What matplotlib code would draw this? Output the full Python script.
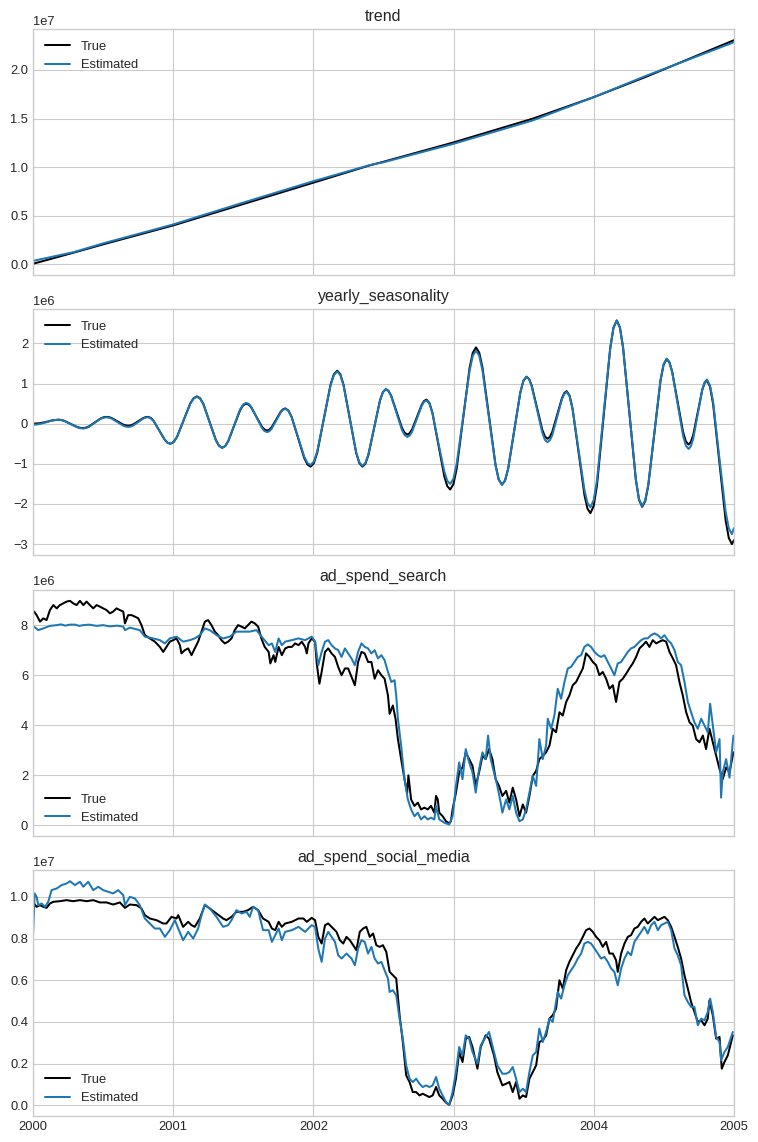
import matplotlib
matplotlib.use("Agg")
import matplotlib.pyplot as plt
import numpy as np

# ---------------- data ----------------
years = [2000, 2001, 2002, 2003, 2004, 2005]
year_labels = ["2000", "2001", "2002", "2003", "2004", "2005"]
titles = ["trend", "yearly_seasonality", "ad_spend_search", "ad_spend_social_media"]

# trend (units of 1e7)
trend_t = [2000.0, 2000.29, 2000.5, 2001.0, 2001.5, 2002.0, 2002.4, 2002.5, 2003.0, 2003.564, 2004.0, 2004.374, 2005.0]
trend_true = [0.005, 0.12, 0.205, 0.40, 0.62, 0.84, 1.017, 1.055, 1.254, 1.498, 1.72, 1.93, 2.306]
trend_est = [0.035, 0.125, 0.215, 0.41, 0.635, 0.855, 1.02, 1.05, 1.24, 1.48, 1.72, 1.94, 2.285]

# yearly seasonality (units of 1e6)
seas_t = [2000.000, 2000.045, 2000.090, 2000.135, 2000.180, 2000.224, 2000.2685, 2000.313, 2000.357,
          2000.399, 2000.4405, 2000.482, 2000.524, 2000.563, 2000.602, 2000.641, 2000.680, 2000.715,
          2000.750, 2000.785, 2000.820, 2000.860, 2000.900, 2000.940, 2000.980, 2001.0275, 2001.075,
          2001.1225, 2001.170, 2001.215, 2001.260, 2001.305, 2001.350, 2001.3925, 2001.435, 2001.4775,
          2001.520, 2001.5575, 2001.595, 2001.6325, 2001.670, 2001.7025, 2001.735, 2001.7675, 2001.800,
          2001.845, 2001.890, 2001.935, 2001.980, 2002.0275, 2002.075, 2002.1225, 2002.170, 2002.215,
          2002.260, 2002.305, 2002.350, 2002.392, 2002.4335, 2002.475, 2002.517, 2002.555, 2002.5935,
          2002.632, 2002.670, 2002.704, 2002.7385, 2002.773, 2002.807, 2002.849, 2002.8915, 2002.934,
          2002.976, 2003.022, 2003.068, 2003.114, 2003.160, 2003.206, 2003.2525, 2003.299, 2003.345,
          2003.389, 2003.4325, 2003.476, 2003.520, 2003.5575, 2003.595, 2003.6325, 2003.670, 2003.704,
          2003.7385, 2003.773, 2003.807, 2003.849, 2003.8915, 2003.934, 2003.976, 2004.023, 2004.070,
          2004.117, 2004.164, 2004.209, 2004.2545, 2004.300, 2004.345, 2004.389, 2004.4325, 2004.476,
          2004.520, 2004.559, 2004.598, 2004.637, 2004.676, 2004.709, 2004.7415, 2004.774, 2004.807,
          2004.8515, 2004.896, 2004.9405, 2004.985, 2005.000,
          # readings next to each turning point
          2000.202, 2000.335, 2000.378, 2000.503, 2000.5435, 2000.6605, 2000.6975, 2000.8025,
          2000.840, 2000.960, 2001.004, 2001.146, 2001.1925, 2001.3275, 2001.371, 2001.499,
          2001.539, 2001.651, 2001.686, 2001.784, 2001.8225, 2001.9575, 2002.004, 2002.146,
          2002.1925, 2002.3275, 2002.371, 2002.496, 2002.536, 2002.651, 2002.687, 2002.790,
          2002.828, 2002.955, 2002.999, 2003.137, 2003.183, 2003.322, 2003.367, 2003.498,
          2003.539, 2003.651, 2003.687, 2003.790, 2003.828, 2003.955, 2003.9995, 2004.1405,
          2004.1866, 2004.3224, 2004.367, 2004.498, 2004.5395, 2004.6565, 2004.692, 2004.791,
          2004.829, 2004.963]
seas_true = [0.00, 0.01, 0.04, 0.08, 0.10, 0.069, -0.005, -0.079, -0.11,
             -0.069, 0.03, 0.129, 0.17, 0.138, 0.06, -0.018, -0.05, -0.018,
             0.06, 0.138, 0.17, 0.072, -0.165, -0.402, -0.50, -0.328, 0.09,
             0.508, 0.68, 0.493, 0.04, -0.413, -0.60, -0.439, -0.05, 0.339,
             0.50, 0.402, 0.165, -0.072, -0.17, -0.09, 0.105, 0.30, 0.38,
             0.168, -0.345, -0.858, -1.07, -0.721, 0.125, 0.971, 1.32, 0.971,
             0.125, -0.721, -1.07, -0.788, -0.105, 0.578, 0.86, 0.695, 0.295,
             -0.105, -0.27, -0.143, 0.165, 0.473, 0.60, 0.273, -0.52, -1.313,
             -1.64, -1.123, 0.13, 1.383, 1.90, 1.401, 0.19, -1.021, -1.52,
             -1.127, -0.175, 0.777, 1.17, 0.944, 0.3975, -0.149, -0.375, -0.202,
             0.2175, 0.637, 0.81, 0.366, -0.71, -1.786, -2.23, -1.529, 0.17,
             1.869, 2.57, 1.893, 0.25, -1.393, -2.07, -1.533, -0.23, 1.073,
             1.61, 1.299, 0.545, -0.209, -0.52, -0.286, 0.28, 0.846, 1.08,
             0.484, -0.96, -2.404, -3.0, -2.9,
             0.092, -0.102, -0.099, 0.159, 0.162, -0.042, -0.042, 0.162,
             0.145, -0.475, -0.455, 0.635, 0.631, -0.551, -0.558, 0.458,
             0.475, -0.145, -0.149, 0.359, 0.325, -1.015, -0.979, 1.229,
             1.229, -0.979, -0.997, 0.787, 0.817, -0.227, -0.237, 0.567,
             0.515, -1.555, -1.505, 1.765, 1.77, -1.39, -1.418, 1.068,
             1.111, -0.316, -0.33, 0.765, 0.694, -2.114, -2.048, 2.388,
             2.394, -1.894, -1.93, 1.47, 1.529, -0.439, -0.459, 1.019,
             0.925, -2.845]
seas_est = [-0.03, -0.01, 0.03, 0.08, 0.10, 0.068, -0.01, -0.085, -0.12,
            -0.078, 0.02, 0.12, 0.16, 0.125, 0.04, -0.045, -0.08, -0.045,
            0.04, 0.125, 0.16, 0.07, -0.17, -0.40, -0.50, -0.33, 0.09,
            0.50, 0.67, 0.49, 0.035, -0.415, -0.60, -0.435, -0.04, 0.355,
            0.52, 0.415, 0.155, -0.10, -0.21, -0.125, 0.08, 0.285, 0.37,
            0.165, -0.33, -0.825, -1.03, -0.69, 0.135, 0.955, 1.30, 0.955,
            0.125, -0.71, -1.05, -0.77, -0.095, 0.578, 0.86, 0.686, 0.265,
            -0.16, -0.33, -0.20, 0.125, 0.45, 0.58, 0.27, -0.48, -1.19,
            -1.50, -1.00, 0.16, 1.31, 1.82, 1.33, 0.15, -1.03, -1.52,
            -1.127, -0.175, 0.777, 1.17, 0.93, 0.355, -0.22, -0.46, -0.285,
            0.165, 0.61, 0.79, 0.36, -0.645, -1.66, -2.08, -1.41, 0.245,
            1.87, 2.57, 1.90, 0.26, -1.375, -2.05, -1.515, -0.215, 1.085,
            1.62, 1.29, 0.49, -0.30, -0.63, -0.38, 0.235, 0.85, 1.10,
            0.54, -0.86, -2.19, -2.75, -2.6,
            0.092, -0.112, -0.109, 0.149, 0.151, -0.071, -0.071, 0.151,
            0.135, -0.475, -0.456, 0.626, 0.622, -0.552, -0.557, 0.477,
            0.492, -0.182, -0.188, 0.348, 0.317, -0.977, -0.941, 1.211,
            1.211, -0.961, -0.977, 0.787, 0.815, -0.285, -0.295, 0.545,
            0.501, -1.421, -1.374, 1.694, 1.693, -1.393, -1.418, 1.068,
            1.108, -0.398, -0.4125, 0.7425, 0.681, -1.971, -1.903, 2.393,
            2.394, -1.874, -1.911, 1.481, 1.5345, -0.5445, -0.564, 1.034,
            0.954, -2.604]

# ad_spend_search (units of 1e6)
search_true_t = [2000.000, 2000.007, 2000.026, 2000.050, 2000.074, 2000.097, 2000.121, 2000.145, 2000.169,
                 2000.192, 2000.216, 2000.240, 2000.264, 2000.287, 2000.311, 2000.335, 2000.359, 2000.382,
                 2000.406, 2000.430, 2000.454, 2000.477, 2000.501, 2000.525, 2000.549, 2000.572, 2000.596,
                 2000.620, 2000.644, 2000.656, 2000.679, 2000.703, 2000.727, 2000.751, 2000.774, 2000.798,
                 2000.834, 2000.869, 2000.905, 2000.929, 2000.952, 2000.976, 2001.000, 2001.024, 2001.048,
                 2001.059, 2001.083, 2001.107, 2001.131, 2001.154, 2001.178, 2001.202, 2001.226, 2001.249,
                 2001.273, 2001.297, 2001.321, 2001.344, 2001.368, 2001.392, 2001.416, 2001.439, 2001.463,
                 2001.487, 2001.511, 2001.534, 2001.558, 2001.582, 2001.606, 2001.629, 2001.653,
                 2001.681, 2001.693, 2001.716, 2001.728, 2001.752, 2001.775, 2001.799, 2001.823, 2001.846,
                 2001.870, 2001.894, 2001.917, 2001.941, 2001.953, 2001.965, 2001.988, 2002.012, 2002.024,
                 2002.043, 2002.059, 2002.083, 2002.106, 2002.130, 2002.154, 2002.177, 2002.201, 2002.225,
                 2002.248, 2002.272, 2002.296, 2002.319, 2002.343, 2002.366, 2002.390, 2002.414, 2002.437,
                 2002.461, 2002.485, 2002.508, 2002.532, 2002.544, 2002.567, 2002.586, 2002.603, 2002.626,
                 2002.650, 2002.669, 2002.678, 2002.697, 2002.721, 2002.745, 2002.768, 2002.792, 2002.816,
                 2002.839, 2002.863, 2002.875, 2002.887, 2002.898, 2002.922, 2002.946, 2002.969, 2002.981,
                 2002.993, 2003.017, 2003.040, 2003.064, 2003.087, 2003.111, 2003.135, 2003.158, 2003.182,
                 2003.206, 2003.229, 2003.253, 2003.277, 2003.300, 2003.324, 2003.348,
                 2003.375, 2003.398, 2003.422, 2003.446, 2003.470, 2003.494, 2003.517, 2003.541, 2003.565,
                 2003.589, 2003.612, 2003.636, 2003.660, 2003.684, 2003.707, 2003.731, 2003.755, 2003.779,
                 2003.803, 2003.826, 2003.850, 2003.874, 2003.898, 2003.922, 2003.945, 2003.969, 2003.993,
                 2004.017, 2004.040, 2004.064, 2004.088, 2004.112, 2004.136, 2004.159, 2004.183, 2004.207,
                 2004.231, 2004.254, 2004.278, 2004.302, 2004.326, 2004.350, 2004.373, 2004.397, 2004.421,
                 2004.445, 2004.468, 2004.492, 2004.516, 2004.540, 2004.564, 2004.587, 2004.611, 2004.635,
                 2004.659, 2004.683, 2004.706, 2004.730, 2004.754, 2004.778, 2004.801, 2004.825, 2004.849,
                 2004.873, 2004.897, 2004.920, 2004.944, 2004.968, 2004.996]
search_true_v = [8.5, 8.55, 8.4, 8.14, 8.27, 8.2, 8.6, 8.8, 8.67,
                 8.8, 8.87, 8.94, 8.97, 8.87, 8.8, 8.97, 8.8, 8.94,
                 8.8, 8.67, 8.8, 8.74, 8.67, 8.6, 8.47, 8.54, 8.67,
                 8.6, 8.54, 8.07, 8.4, 8.4, 8.34, 8.27, 8.0, 7.6,
                 7.47, 7.34, 7.13, 6.93, 7.13, 7.34, 7.4, 7.47, 7.2,
                 6.87, 7.0, 7.07, 6.8, 7.07, 7.34, 7.74, 8.14, 8.2,
                 8.0, 7.74, 7.6, 7.4, 7.27, 7.34, 7.47, 7.8, 8.0,
                 7.94, 7.87, 8.0, 8.14, 8.07, 7.94, 7.47, 7.13,
                 6.93, 6.47, 6.8, 6.53, 7.13, 6.8, 7.07, 7.13, 7.13,
                 7.27, 7.2, 7.34, 7.13, 6.87, 7.27, 7.47, 7.34, 6.47,
                 5.66, 6.13, 6.93, 7.07, 6.87, 6.73, 6.33, 6.0, 6.27,
                 6.27, 5.93, 5.6, 6.53, 6.93, 6.87, 6.53, 6.53, 5.86,
                 6.2, 6.0, 5.86, 5.19, 4.46, 4.79, 4.26, 3.45, 2.65,
                 1.85, 1.3, 2.0, 1.04, 0.78, 0.91, 0.64, 0.71, 0.64,
                 0.78, 0.51, 1.18, 1.04, 0.51, 0.37, 0.17, 0.08, 0.17,
                 0.64, 1.31, 2.12, 2.32, 2.92, 2.65, 2.38, 1.58, 2.12,
                 2.78, 2.65, 3.05, 2.65, 1.85, 1.58, 1.18,
                 1.38, 0.91, 1.51, 1.04, 0.37, 0.84, 0.51, 1.18, 1.98,
                 2.18, 2.65, 2.78, 2.92, 3.19, 3.86, 3.72, 4.52, 4.39,
                 4.93, 5.19, 5.6, 5.73, 6.0, 6.27, 6.87, 6.73, 6.53,
                 6.4, 6.0, 6.13, 5.86, 5.46, 5.6, 4.93, 5.73, 5.86,
                 6.06, 6.27, 6.47, 6.73, 7.07, 7.2, 7.34, 7.13, 7.4,
                 7.27, 7.34, 7.4, 7.34, 6.93, 6.67, 6.4, 5.73, 5.19,
                 4.52, 4.12, 3.99, 3.45, 3.32, 3.59, 3.05, 3.86, 3.32,
                 2.78, 2.25, 1.85, 2.32, 2.12, 2.92]

search_est_t = [2000.000, 2000.007, 2000.038, 2000.074, 2000.121, 2000.169, 2000.200, 2000.230, 2000.264,
                2000.300, 2000.330, 2000.359, 2000.400, 2000.454, 2000.500, 2000.549, 2000.600, 2000.644,
                2000.656, 2000.691, 2000.762, 2000.798, 2000.857, 2000.905, 2000.941, 2000.976, 2001.024,
                2001.071, 2001.119, 2001.154, 2001.190, 2001.226, 2001.261, 2001.309, 2001.356, 2001.404,
                2001.451, 2001.499, 2001.546, 2001.594, 2001.641,
                2001.681, 2001.704, 2001.728, 2001.752, 2001.775, 2001.799, 2001.846, 2001.894, 2001.941,
                2001.988, 2002.012, 2002.035, 2002.059, 2002.083, 2002.106, 2002.130, 2002.154, 2002.177,
                2002.201, 2002.225, 2002.248, 2002.272, 2002.296, 2002.319, 2002.343, 2002.366, 2002.390,
                2002.414, 2002.437, 2002.461, 2002.485, 2002.508, 2002.532, 2002.556, 2002.579, 2002.591,
                2002.603, 2002.626, 2002.650, 2002.674, 2002.697, 2002.721, 2002.745, 2002.768, 2002.792,
                2002.816, 2002.839, 2002.863, 2002.875, 2002.898, 2002.934, 2002.969, 2002.993, 2003.017,
                2003.040, 2003.064, 2003.087, 2003.111, 2003.135, 2003.158, 2003.182, 2003.206, 2003.229,
                2003.246, 2003.265, 2003.288, 2003.312, 2003.336, 2003.348,
                2003.375, 2003.398, 2003.422, 2003.446, 2003.470, 2003.494, 2003.517, 2003.541, 2003.565,
                2003.589, 2003.612, 2003.636, 2003.660, 2003.672, 2003.696, 2003.719, 2003.743, 2003.767,
                2003.791, 2003.815, 2003.838, 2003.862, 2003.886, 2003.910, 2003.933, 2003.957, 2003.981,
                2004.005, 2004.029, 2004.052, 2004.076, 2004.100, 2004.124, 2004.147, 2004.171, 2004.195,
                2004.219, 2004.243, 2004.266, 2004.290, 2004.314, 2004.338, 2004.361, 2004.385, 2004.409,
                2004.433, 2004.457, 2004.480, 2004.504, 2004.528, 2004.552, 2004.576, 2004.599, 2004.623,
                2004.647, 2004.671, 2004.694, 2004.718, 2004.742, 2004.766, 2004.790, 2004.813, 2004.830,
                2004.849, 2004.873, 2004.897, 2004.908, 2004.920, 2004.944, 2004.968, 2004.996]
search_est_v = [7.9, 7.94, 7.8, 7.87, 7.97, 8.0, 8.03, 7.98, 8.02,
                8.02, 7.97, 8.0, 8.02, 7.97, 8.0, 7.95, 7.98, 7.94,
                7.8, 7.9, 7.8, 7.54, 7.47, 7.4, 7.27, 7.47, 7.54,
                7.34, 7.4, 7.47, 7.6, 7.87, 7.8, 7.6, 7.47, 7.54,
                7.74, 7.74, 7.74, 7.8, 7.47,
                7.2, 7.27, 6.93, 7.47, 7.2, 7.34, 7.4, 7.47, 7.4,
                7.54, 7.34, 6.4, 6.93, 7.34, 7.4, 7.2, 7.07, 7.0,
                6.73, 7.07, 6.87, 6.67, 6.4, 6.93, 7.27, 7.13, 7.07,
                6.87, 7.0, 6.67, 6.8, 6.6, 6.13, 5.73, 5.8, 5.19,
                4.26, 3.19, 1.85, 1.04, 0.64, 0.37, 0.51, 0.24, 0.37,
                0.24, 0.31, 0.24, 0.78, 0.24, 0.11, 0.04, 0.37, 1.58,
                2.52, 1.85, 3.05, 2.52, 2.12, 1.31, 2.25, 2.92, 2.65,
                3.59, 2.65, 2.12, 1.58, 0.91, 0.51,
                1.04, 0.64, 1.18, 0.51, 0.17, 0.24, 0.64, 1.31, 1.98,
                1.58, 3.45, 2.65, 3.19, 4.26, 3.86, 4.39, 5.46, 5.06,
                5.73, 6.27, 6.33, 6.53, 6.73, 6.8, 7.13, 7.23, 7.13,
                6.93, 6.8, 6.73, 6.8, 6.53, 6.27, 6.0, 6.47, 6.53,
                6.73, 6.93, 7.07, 7.13, 7.27, 7.4, 7.47, 7.47, 7.6,
                7.67, 7.6, 7.47, 7.6, 7.4, 7.27, 7.0, 6.53, 6.4,
                5.73, 4.93, 4.52, 4.12, 3.86, 4.26, 3.99, 3.72, 4.86,
                3.99, 2.92, 3.45, 1.11, 2.12, 2.65, 1.91, 3.59]

# ad_spend_social_media (units of 1e6)
social_true_t = [2000.000, 2000.007, 2000.026, 2000.050, 2000.074, 2000.097, 2000.121, 2000.145, 2000.192,
                 2000.240, 2000.287, 2000.335, 2000.382, 2000.430, 2000.477, 2000.525, 2000.572, 2000.620,
                 2000.656, 2000.691, 2000.739, 2000.774, 2000.798, 2000.834, 2000.881, 2000.929, 2000.952,
                 2000.988, 2001.024, 2001.036, 2001.071, 2001.107, 2001.131, 2001.154, 2001.190, 2001.226,
                 2001.261, 2001.309, 2001.356, 2001.380, 2001.416, 2001.451, 2001.499, 2001.534, 2001.570,
                 2001.606, 2001.641,
                 2001.681, 2001.704, 2001.728, 2001.752, 2001.775, 2001.799, 2001.846, 2001.894, 2001.929,
                 2001.953, 2001.988, 2002.012, 2002.035, 2002.059, 2002.083, 2002.106, 2002.130, 2002.165,
                 2002.189, 2002.213, 2002.236, 2002.260, 2002.284, 2002.307, 2002.331, 2002.355, 2002.378,
                 2002.402, 2002.426, 2002.449, 2002.473, 2002.496, 2002.520, 2002.544, 2002.567, 2002.591,
                 2002.615, 2002.638, 2002.662, 2002.686, 2002.709, 2002.733, 2002.757, 2002.780, 2002.804,
                 2002.827, 2002.851, 2002.875, 2002.898, 2002.922, 2002.946, 2002.969, 2002.993, 2003.017,
                 2003.040, 2003.064, 2003.087, 2003.111, 2003.135, 2003.170, 2003.194, 2003.229, 2003.253,
                 2003.288, 2003.312, 2003.348,
                 2003.375, 2003.398, 2003.422, 2003.446, 2003.470, 2003.494, 2003.517, 2003.541, 2003.565,
                 2003.589, 2003.612, 2003.636, 2003.660, 2003.684, 2003.707, 2003.731, 2003.755, 2003.779,
                 2003.803, 2003.826, 2003.850, 2003.874, 2003.898, 2003.922, 2003.945, 2003.969, 2003.993,
                 2004.017, 2004.040, 2004.064, 2004.088, 2004.112, 2004.136, 2004.159, 2004.171, 2004.195,
                 2004.219, 2004.243, 2004.266, 2004.290, 2004.314, 2004.338, 2004.361, 2004.385, 2004.409,
                 2004.433, 2004.457, 2004.480, 2004.504, 2004.528, 2004.552, 2004.576, 2004.599, 2004.623,
                 2004.647, 2004.671, 2004.694, 2004.718, 2004.742, 2004.766, 2004.790, 2004.813, 2004.825,
                 2004.849, 2004.873, 2004.897, 2004.913, 2004.932, 2004.956, 2004.992]
social_true_v = [9.6, 9.68, 9.52, 9.6, 9.52, 9.47, 9.68, 9.76, 9.79,
                 9.84, 9.79, 9.84, 9.79, 9.84, 9.73, 9.73, 9.63, 9.73,
                 9.47, 9.63, 9.6, 9.44, 9.12, 8.96, 8.88, 8.72, 8.72,
                 9.04, 8.96, 9.12, 8.56, 8.8, 8.64, 8.56, 8.96, 9.6,
                 9.44, 9.2, 8.96, 8.88, 9.04, 9.28, 9.28, 9.36, 9.52,
                 9.36, 8.96,
                 8.8, 8.48, 8.4, 8.8, 8.56, 8.72, 8.8, 8.96, 8.96,
                 8.8, 8.99, 8.88, 8.08, 7.76, 8.64, 8.72, 8.56, 8.32,
                 7.92, 7.76, 8.08, 7.92, 7.68, 7.44, 8.32, 8.48, 8.56,
                 8.08, 8.24, 7.68, 7.6, 7.68, 7.36, 6.4, 6.24, 6.08,
                 4.32, 3.04, 1.44, 1.12, 0.64, 0.64, 0.48, 0.56, 0.48,
                 0.4, 0.48, 0.88, 0.48, 0.32, 0.13, 0.03, 0.48, 1.28,
                 2.56, 2.08, 3.2, 3.28, 2.8, 1.76, 2.8, 3.36, 3.2,
                 2.4, 1.6, 0.96,
                 1.04, 1.12, 0.64, 1.12, 0.32, 0.48, 0.4, 1.28, 1.6,
                 1.92, 3.04, 3.12, 3.36, 4.16, 4.32, 4.64, 6.0, 5.6,
                 6.48, 6.88, 7.2, 7.52, 7.76, 8.08, 8.4, 8.48, 8.32,
                 8.08, 7.92, 7.6, 7.84, 7.28, 7.28, 6.96, 6.4, 7.28,
                 7.76, 8.08, 8.16, 8.48, 8.56, 8.8, 8.96, 8.72, 8.88,
                 9.04, 8.88, 8.96, 9.04, 8.88, 8.56, 8.08, 7.6, 7.04,
                 6.24, 5.6, 4.96, 4.48, 4.0, 4.08, 3.84, 4.16, 5.04,
                 4.32, 3.2, 3.28, 1.76, 2.08, 2.4, 3.36]

social_est_t = [2000.000, 2000.012, 2000.026, 2000.038, 2000.062, 2000.086, 2000.109, 2000.133, 2000.169,
                2000.204, 2000.240, 2000.264, 2000.299, 2000.335, 2000.359, 2000.394, 2000.430, 2000.466,
                2000.501, 2000.537, 2000.572, 2000.608, 2000.644, 2000.656, 2000.691, 2000.727, 2000.762,
                2000.798, 2000.834, 2000.869, 2000.905, 2000.941, 2000.976, 2001.012, 2001.036, 2001.071,
                2001.107, 2001.143, 2001.178, 2001.202, 2001.226, 2001.261, 2001.309, 2001.356, 2001.392,
                2001.416, 2001.451, 2001.487, 2001.523, 2001.546, 2001.570, 2001.606, 2001.641,
                2001.681, 2001.704, 2001.728, 2001.752, 2001.775, 2001.799, 2001.846, 2001.894, 2001.941,
                2001.988, 2002.012, 2002.035, 2002.059, 2002.083, 2002.106, 2002.130, 2002.154, 2002.177,
                2002.201, 2002.236, 2002.272, 2002.296, 2002.319, 2002.343, 2002.366, 2002.390, 2002.414,
                2002.437, 2002.461, 2002.485, 2002.508, 2002.532, 2002.544, 2002.567, 2002.591, 2002.615,
                2002.638, 2002.662, 2002.686, 2002.709, 2002.733, 2002.757, 2002.780, 2002.804, 2002.827,
                2002.851, 2002.875, 2002.898, 2002.922, 2002.946, 2002.969, 2002.993, 2003.017, 2003.040,
                2003.064, 2003.087, 2003.111, 2003.135, 2003.170, 2003.194, 2003.229, 2003.253, 2003.288,
                2003.312, 2003.348,
                2003.375, 2003.398, 2003.422, 2003.446, 2003.470, 2003.494, 2003.517, 2003.541, 2003.565,
                2003.589, 2003.612, 2003.636, 2003.660, 2003.684, 2003.707, 2003.743, 2003.767, 2003.791,
                2003.815, 2003.838, 2003.862, 2003.886, 2003.910, 2003.933, 2003.957, 2003.981, 2004.005,
                2004.029, 2004.052, 2004.076, 2004.100, 2004.124, 2004.147, 2004.171, 2004.195, 2004.219,
                2004.243, 2004.266, 2004.290, 2004.314, 2004.338, 2004.361, 2004.385, 2004.409, 2004.433,
                2004.457, 2004.480, 2004.504, 2004.528, 2004.552, 2004.576, 2004.599, 2004.623, 2004.647,
                2004.671, 2004.694, 2004.718, 2004.742, 2004.766, 2004.790, 2004.813, 2004.830, 2004.849,
                2004.873, 2004.897, 2004.908, 2004.932, 2004.956, 2004.992]
social_est_v = [8.08, 10.16, 10.0, 9.6, 9.68, 9.52, 9.76, 10.32, 10.4,
                10.56, 10.64, 10.75, 10.56, 10.72, 10.48, 10.72, 10.32, 10.48,
                10.32, 10.24, 10.16, 10.32, 10.08, 9.6, 10.0, 9.92, 9.6,
                8.96, 8.72, 8.48, 8.48, 8.08, 8.4, 8.88, 8.48, 7.92,
                8.32, 8.0, 8.48, 9.12, 9.63, 9.44, 9.04, 8.56, 8.64,
                8.88, 9.36, 9.2, 9.28, 9.04, 9.52, 9.36, 8.4,
                8.4, 7.84, 8.16, 8.48, 7.92, 8.32, 8.4, 8.56, 8.32,
                8.64, 8.56, 7.52, 6.88, 8.0, 8.32, 8.08, 7.84, 7.2,
                7.04, 7.28, 7.04, 6.72, 7.52, 7.92, 7.84, 7.28, 7.6,
                7.04, 6.8, 6.88, 6.48, 6.08, 5.44, 5.52, 5.28, 4.16,
                3.2, 1.92, 1.28, 1.12, 1.28, 1.04, 0.88, 0.96, 0.88,
                0.96, 1.36, 0.8, 0.48, 0.16, 0.03, 0.64, 1.6, 2.8,
                2.4, 3.36, 3.2, 2.56, 2.0, 2.88, 3.28, 3.52, 2.56,
                1.92, 1.52,
                1.52, 1.6, 1.84, 1.28, 0.64, 0.8, 0.64, 1.6, 2.4,
                2.56, 3.68, 3.04, 3.52, 4.16, 4.0, 5.44, 5.12, 5.76,
                6.24, 6.48, 6.72, 7.04, 7.28, 7.76, 7.84, 7.76, 7.52,
                7.28, 7.04, 7.12, 6.88, 6.56, 6.4, 5.76, 6.56, 7.04,
                7.36, 7.2, 7.84, 8.08, 8.32, 8.56, 8.24, 8.64, 8.8,
                8.4, 8.64, 8.72, 8.8, 8.4, 7.52, 7.2, 6.72, 5.28,
                4.96, 4.72, 4.72, 3.84, 4.16, 4.08, 4.48, 5.12, 4.48,
                3.28, 3.04, 2.16, 2.56, 2.8, 3.52]

# ---------------- plot ----------------
plt.style.use("seaborn-v0_8-whitegrid")
plt.rcParams["xtick.labelsize"] = 9.3
plt.rcParams["ytick.labelsize"] = 9.3

fig, axes = plt.subplots(4, 1, figsize=(7.58, 11.42), dpi=100, sharex=True)
fig.subplots_adjust(left=0.0435, right=0.9683, top=0.9746, bottom=0.0228, hspace=0.1396)


def ordered(t, v):
    t = np.asarray(t, dtype=float)
    v = np.asarray(v, dtype=float)
    idx = np.argsort(t, kind="stable")
    return t[idx], v[idx]


panels = [
    (trend_t, trend_true, trend_t, trend_est, 1e7, "upper left"),
    (seas_t, seas_true, seas_t, seas_est, 1e6, "upper left"),
    (search_true_t, search_true_v, search_est_t, search_est_v, 1e6, "lower left"),
    (social_true_t, social_true_v, social_est_t, social_est_v, 1e6, "lower left"),
]

for ax, title, (tt, tv, et, ev, scale, loc) in zip(axes, titles, panels):
    x1, y1 = ordered(tt, tv)
    x2, y2 = ordered(et, ev)
    ax.plot(x1, y1 * scale, color="black", lw=1.45, label="True")
    ax.plot(x2, y2 * scale, color="#1f77b4", lw=1.45, label="Estimated")
    ax.set_title(title, fontsize=11.5)
    ax.legend(loc=loc, fontsize=9.3)
    ax.yaxis.get_offset_text().set_fontsize(9.3)

axes[-1].set_xlim(2000, 2005)
axes[-1].set_xticks(years)
axes[-1].set_xticklabels(year_labels)

fig.savefig("out.png", dpi=100)
